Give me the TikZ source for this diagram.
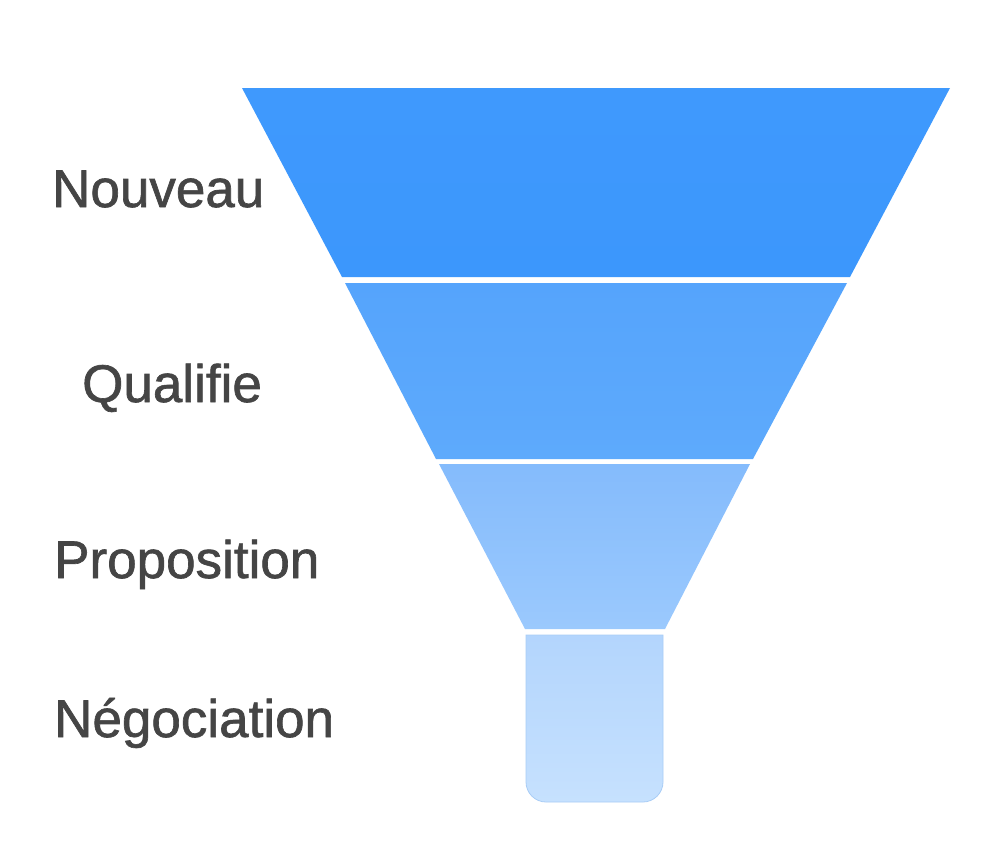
\documentclass[tikz,border=0pt]{standalone}
\usepackage{fontspec}
\setmainfont{Liberation Sans}
\newfontfamily\lblfont[FakeBold=1.2]{Liberation Sans}
\definecolor{txt}{HTML}{454545}
\definecolor{b1t}{HTML}{3F99FD}
\definecolor{b1b}{HTML}{3C97FC}
\definecolor{b2t}{HTML}{55A4FC}
\definecolor{b2b}{HTML}{5EAAFC}
\definecolor{b3t}{HTML}{84BBFC}
\definecolor{b3b}{HTML}{9BC9FD}
\definecolor{b4t}{HTML}{B3D5FD}
\definecolor{b4b}{HTML}{C6E1FE}
\definecolor{b4e}{HTML}{A9CDF6}
\begin{document}
\begin{tikzpicture}[x=1pt,y=-1pt,
  lbl/.style={anchor=base west,inner sep=0pt,text=txt,font=\lblfont\fontsize{53}{60}\selectfont}]
\useasboundingbox[fill=white] (0,0) rectangle (994,854);
\path[top color=b1t,bottom color=b1b] (242,88) -- (950,88) -- (850,277) -- (342,277) -- cycle;
\path[top color=b2t,bottom color=b2b] (345,283) -- (847,283) -- (753,459) -- (436,459) -- cycle;
\path[top color=b3t,bottom color=b3b] (439,464) -- (750,464) -- (665,629) -- (525,629) -- cycle;
\path[top color=b4t,bottom color=b4b,draw=b4e,line width=0.8pt]
  (526,635) -- (663,635) -- (663,782) .. controls (663,793) and (654,802) .. (643,802)
  -- (546,802) .. controls (535,802) and (526,793) .. (526,782) -- cycle;
\node[lbl] (n1) at (52,207) {Nouveau};
\node[lbl] (n2) at (82,402) {Qualifie};
\node[lbl] (n3) at (54,578) {Proposition};
\node[lbl] (n4) at (54,737) {Négociation};
\end{tikzpicture}
\end{document}
